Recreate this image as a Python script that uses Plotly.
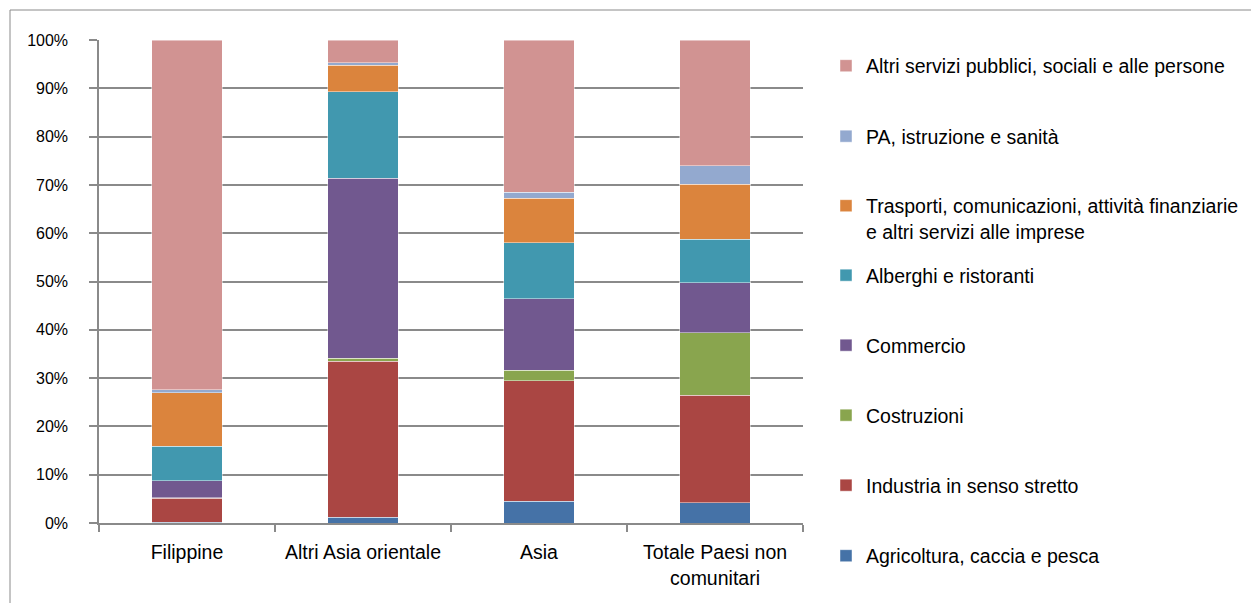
import plotly.graph_objects as go

# Occupati stranieri per settore di attività (% sul totale di ciascun gruppo)
categories = ["Filippine", "Altri Asia orientale", "Asia", "Totale Paesi non<br>comunitari"]

agricoltura = [0.2, 1.2, 4.5, 4.2]
industria = [4.9, 32.3, 25.0, 22.3]
costruzioni = [0.1, 0.6, 2.1, 12.9]
commercio = [3.6, 37.3, 14.8, 10.3]
alberghi = [7.1, 17.9, 11.6, 9.0]
trasporti = [11.1, 5.5, 9.2, 11.4]
pa_istruzione = [0.55, 0.5, 1.3, 3.9]
altri_servizi = [72.45, 4.7, 31.5, 26.0]

y_ticks = [0, 10, 20, 30, 40, 50, 60, 70, 80, 90, 100]
y_tick_labels = [f"{v}%" for v in y_ticks]

sector_names = [
    "Agricoltura, caccia e pesca",
    "Industria in senso stretto",
    "Costruzioni",
    "Commercio",
    "Alberghi e ristoranti",
    "Trasporti, comunicazioni, attività finanziarie<br>e altri servizi alle imprese",
    "PA, istruzione e sanità",
    "Altri servizi pubblici, sociali e alle persone",
]
sector_values = [agricoltura, industria, costruzioni, commercio,
                 alberghi, trasporti, pa_istruzione, altri_servizi]
sector_colors = ["#4572A7", "#AA4643", "#89A54E", "#71588F",
                 "#4198AF", "#DB843D", "#93A9CF", "#D19392"]

# Page geometry (pixels)
W, H = 1251, 603
PLOT_L, PLOT_R, PLOT_T, PLOT_B = 99, 803, 40, 523
FONT = "Liberation Sans, Arial, sans-serif"
GRID = "#8A8A8A"

# Vertical centre of each legend row, bottom series first
legend_rows = [556, 485.5, 415.5, 345.5, 275.5, 218.5, 136.5, 66]
LEGEND_X = 826


def px_x(px):
    return (px - PLOT_L) / (PLOT_R - PLOT_L)


def px_y(py):
    return (PLOT_B - py) / (PLOT_B - PLOT_T)


fig = go.Figure()
legend_layouts = {}
for i, (name, vals, color) in enumerate(zip(sector_names, sector_values, sector_colors)):
    key = "legend" if i == 0 else f"legend{i + 1}"
    fig.add_trace(go.Bar(
        x=categories,
        y=vals,
        name=name,
        marker=dict(color=color, line=dict(color="rgba(255,255,255,0.45)", width=1)),
        legend=key,
        hoverinfo="name+y",
    ))
    legend_layouts[key] = dict(
        x=LEGEND_X / W,
        y=1 - legend_rows[i] / H,
        xref="container",
        yref="container",
        xanchor="left",
        yanchor="middle",
        valign="top",
        bgcolor="rgba(0,0,0,0)",
        borderwidth=0,
        font=dict(family=FONT, size=19.5, color="#000000"),
    )

fig.update_layout(
    width=W,
    height=H,
    barmode="stack",
    bargap=0.6,
    plot_bgcolor="white",
    paper_bgcolor="white",
    margin=dict(l=PLOT_L, r=W - PLOT_R, t=PLOT_T, b=H - PLOT_B, pad=0),
    font=dict(family=FONT, color="#000000"),
    showlegend=True,
    **legend_layouts,
    xaxis=dict(
        type="category",
        showgrid=False,
        showline=True,
        linecolor=GRID,
        linewidth=1.5,
        ticks="outside",
        tickson="boundaries",
        ticklen=7,
        tickcolor=GRID,
        tickwidth=1.5,
        tickfont=dict(family=FONT, size=19.5, color="#000000"),
        ticklabelstandoff=11,
        zeroline=False,
    ),
    yaxis=dict(
        range=[0, 100],
        tickmode="array",
        tickvals=y_ticks,
        ticktext=y_tick_labels,
        showgrid=True,
        gridcolor=GRID,
        gridwidth=1.5,
        showline=True,
        linecolor=GRID,
        linewidth=1.5,
        ticks="outside",
        ticklen=8,
        tickcolor=GRID,
        tickwidth=1.5,
        tickfont=dict(family=FONT, size=16, color="#000000"),
        ticklabelstandoff=18,
        zeroline=False,
    ),
    shapes=[
        # outer chart frame (left and top edges visible)
        dict(type="line", xref="paper", yref="paper",
             x0=px_x(10), x1=px_x(10), y0=px_y(10), y1=px_y(H + 20),
             line=dict(color=GRID, width=1)),
        dict(type="line", xref="paper", yref="paper",
             x0=px_x(10), x1=px_x(W + 20), y0=px_y(10), y1=px_y(10),
             line=dict(color=GRID, width=1)),
    ],
)

fig.write_html("out.html")
